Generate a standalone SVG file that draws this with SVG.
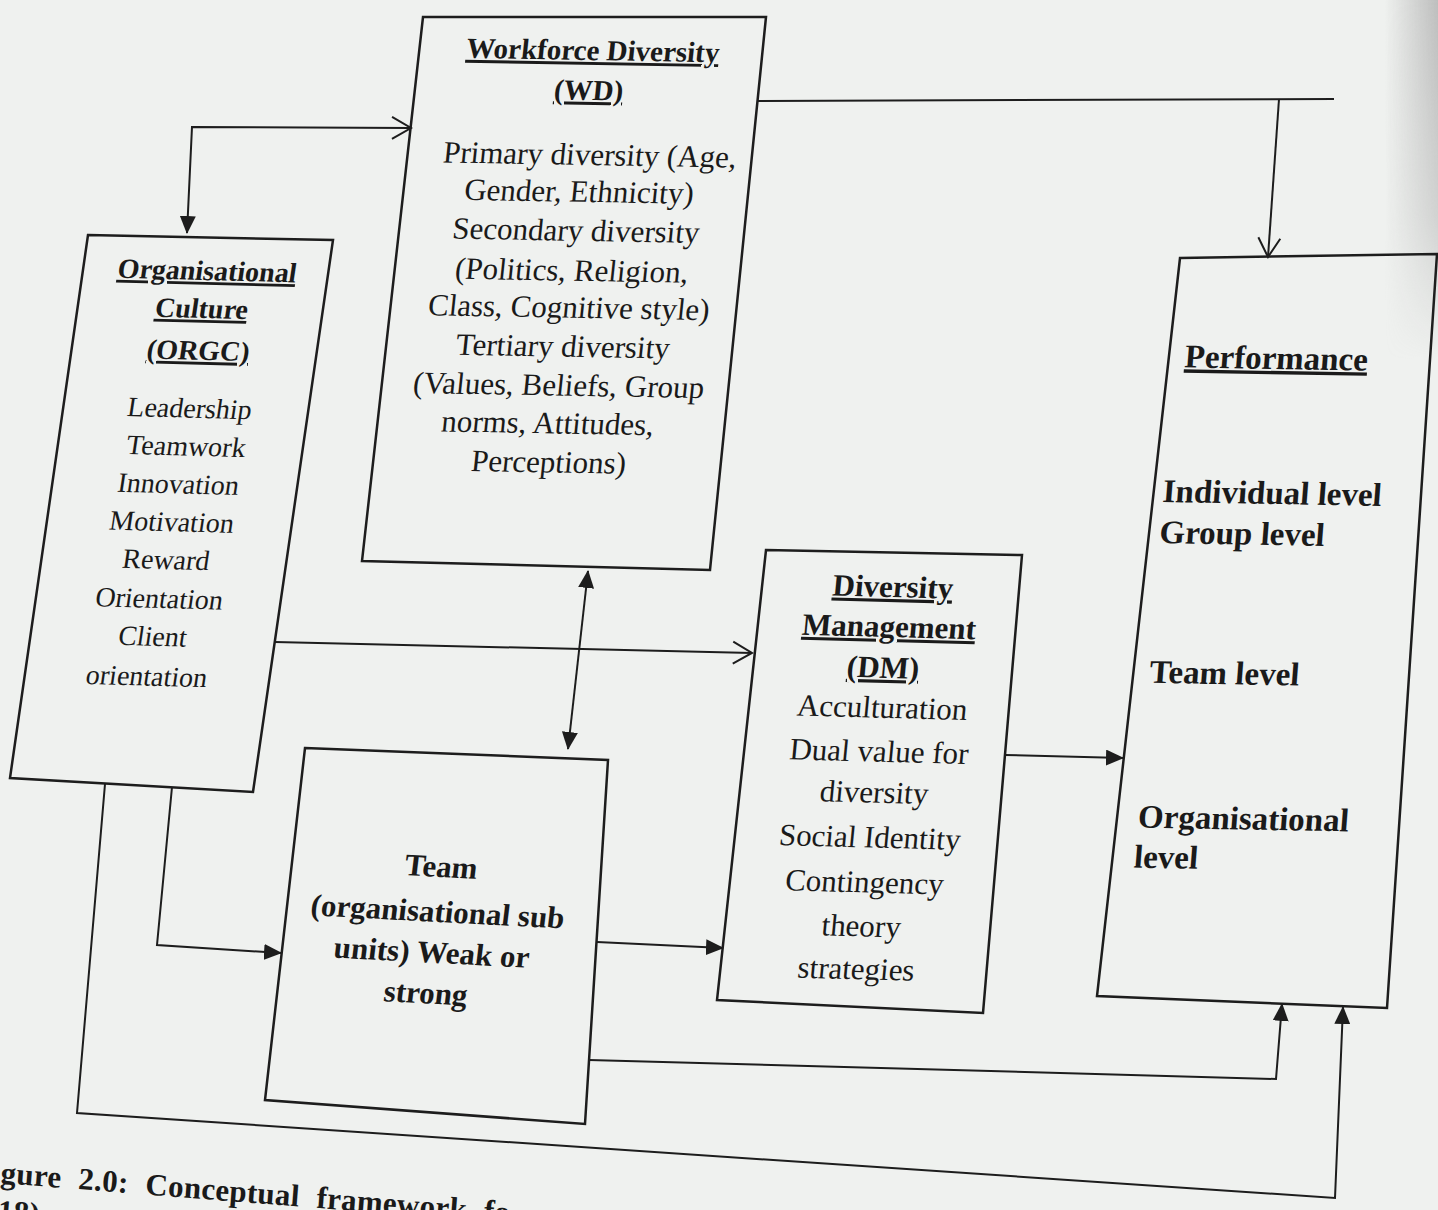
<svg xmlns="http://www.w3.org/2000/svg" width="1438" height="1210" viewBox="0 0 1438 1210">
<defs>
<style>
.box{fill:none;stroke:#1d1d1d;stroke-width:2.5;stroke-linejoin:miter}
.ln{fill:none;stroke:#1d1d1d;stroke-width:2}
text{font-family:"Liberation Serif","Times New Roman",serif;fill:#1a1a1a}
.t{text-anchor:middle}
.h{font-weight:bold;text-decoration:underline}
.b{font-weight:bold}
.wd{font-size:31px}
.wdh{font-size:29px}
.oc{font-size:28px}
.dm{font-size:31px}
.pf{font-size:33px}
.tm{font-size:31px}
.cap{font-size:31px;font-weight:bold;letter-spacing:0.3px;word-spacing:9px}
</style>
<marker id="fa" viewBox="0 0 18 16" refX="17" refY="8" markerWidth="18" markerHeight="16" markerUnits="userSpaceOnUse" orient="auto-start-reverse">
<path d="M0,0 L18,8 L0,16 z" fill="#1d1d1d"/>
</marker>
<marker id="oa" viewBox="0 0 24 26" refX="21" refY="13" markerWidth="24" markerHeight="26" markerUnits="userSpaceOnUse" orient="auto">
<path d="M2,2 L21,13 L2,24" fill="none" stroke="#1d1d1d" stroke-width="2"/>
</marker>
<linearGradient id="shade" x1="1385" y1="0" x2="1438" y2="0" gradientUnits="userSpaceOnUse">
<stop offset="0" stop-color="#a8a8a8" stop-opacity="0"/>
<stop offset="1" stop-color="#a8a8a8" stop-opacity="0.7"/>
</linearGradient>
<linearGradient id="fade" x1="0" y1="0" x2="0" y2="1">
<stop offset="0" stop-color="#fff" stop-opacity="1"/>
<stop offset="0.6" stop-color="#fff" stop-opacity="0.6"/>
<stop offset="1" stop-color="#fff" stop-opacity="0"/>
</linearGradient>
<mask id="m"><rect x="1380" y="0" width="58" height="360" fill="url(#fade)"/></mask>
</defs>
<rect x="0" y="0" width="1438" height="1210" fill="#eff1ef"/>
<rect x="1380" y="0" width="58" height="360" fill="url(#shade)" mask="url(#m)"/>

<g id="connectors">
<path class="ln" d="M187,233 L192,127 L411,128" marker-start="url(#fa)" marker-end="url(#oa)"/>
<path class="ln" d="M275,642 L752,653" marker-end="url(#oa)"/>
<path class="ln" d="M757,101 L1334,99"/>
<path class="ln" d="M1279,99 L1268,257" marker-end="url(#oa)"/>
<path class="ln" d="M588,571 L568,749" marker-start="url(#fa)" marker-end="url(#fa)"/>
<path class="ln" d="M172,787 L157,945 L281,953" marker-end="url(#fa)"/>
<path class="ln" d="M597,942 L723,948" marker-end="url(#fa)"/>
<path class="ln" d="M1005,755 L1123,758" marker-end="url(#fa)"/>
<path class="ln" d="M589,1060 L1276,1079 L1282,1004" marker-end="url(#fa)"/>
<path class="ln" d="M105,784 L77,1113 L1335,1198 L1343,1007" marker-end="url(#fa)"/>
</g>

<g id="orgc">
<polygon class="box" points="88,235 333,240 253,792 10,778"/>
<g transform="translate(206,280) rotate(1.5) skewX(-7)">
<text class="t h oc" x="0" y="0">Organisational</text>
<text class="t h oc" x="0" y="38">Culture</text>
<text class="t h oc" x="3" y="80">(ORGC)</text>
<text class="t oc" x="3" y="138">Leadership</text>
<text class="t oc" x="5" y="176">Teamwork</text>
<text class="t oc" x="3" y="214">Innovation</text>
<text class="t oc" x="2" y="252">Motivation</text>
<text class="t oc" x="2" y="290">Reward</text>
<text class="t oc" x="1" y="329">Orientation</text>
<text class="t oc" x="0" y="367">Client</text>
<text class="t oc" x="0" y="407">orientation</text>
</g>
</g>

<g id="wd">
<polygon class="box" points="423,17 766,17 710,570 362,561"/>
<g transform="translate(592,60) rotate(1) skewX(-5)">
<text class="t h wdh" x="0" y="0">Workforce Diversity</text>
<text class="t h wdh" x="0" y="40">(WD)</text>
<text class="t wd" x="8" y="105">Primary diversity (Age,</text>
<text class="t wd" x="1" y="142">Gender, Ethnicity)</text>
<text class="t wd" x="2" y="181">Secondary diversity</text>
<text class="t wd" x="2" y="221">(Politics, Religion,</text>
<text class="t wd" x="3" y="258">Class, Cognitive style)</text>
<text class="t wd" x="1" y="297">Tertiary diversity</text>
<text class="t wd" x="1" y="336">(Values, Beliefs, Group</text>
<text class="t wd" x="-6" y="374">norms, Attitudes,</text>
<text class="t wd" x="-1" y="413">Perceptions)</text>
</g>
</g>

<g id="dm">
<polygon class="box" points="766,550 1022,555 983,1013 717,1000"/>
<g transform="translate(892,597) rotate(1.5) skewX(-4)">
<text class="t h dm" x="0" y="0">Diversity</text>
<text class="t h dm" x="0" y="40">Management</text>
<text class="t h dm" x="-2" y="81">(DM)</text>
<text class="t dm" x="1" y="121">Acculturation</text>
<text class="t dm" x="2" y="165">Dual value for</text>
<text class="t dm" x="1" y="206">diversity</text>
<text class="t dm" x="1" y="251">Social Identity</text>
<text class="t dm" x="0" y="296">Contingency</text>
<text class="t dm" x="1" y="340">theory</text>
<text class="t dm" x="0" y="383">strategies</text>
</g>
</g>

<g id="team">
<polygon class="box" points="305,748 608,760 585,1124 265,1100"/>
<g transform="translate(440,877) rotate(3) skewX(-4)">
<text class="t b tm" x="0" y="0">Team</text>
<text class="t b tm" x="2" y="45">(organisational sub</text>
<text class="t b tm" x="1" y="86">units) Weak or</text>
<text class="t b tm" x="0" y="127">strong</text>
</g>
</g>

<g id="performance">
<polygon class="box" points="1180,258 1437,254 1387,1008 1097,996"/>
<g transform="translate(1162,502) rotate(1) skewX(-3.5)">
<text class="t h pf" x="103" y="-135">Performance</text>
<text class="b pf" x="0" y="0">Individual level</text>
<text class="b pf" x="0" y="41">Group level</text>
<text class="b pf" x="1" y="181">Team level</text>
<text class="b pf" x="1" y="326">Organisational</text>
<text class="b pf" x="0" y="366">level</text>
</g>
</g>

<g id="caption" transform="translate(0,1183) rotate(4.5)">
<text class="cap" x="0" y="0">gure 2.0: Conceptual framework fo</text>
<text class="cap" x="0" y="38">18)</text>
</g>
</svg>
